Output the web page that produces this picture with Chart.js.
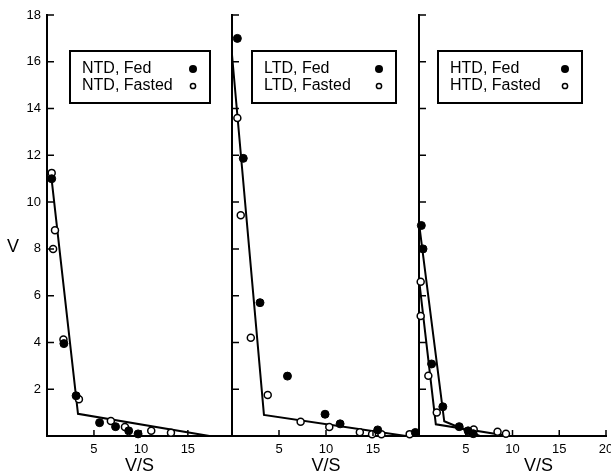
<!DOCTYPE html>
<html>
<head>
<meta charset="utf-8">
<script src="https://cdn.jsdelivr.net/npm/chart.js@4"></script>
<style>
  html, body { margin: 0; padding: 0; background: #fff; overflow: hidden; }
  #wrap { position: relative; width: 611px; height: 476px; overflow: hidden; }
  #wrap canvas { position: absolute; top: 0; }
</style>
</head>
<body>
<div id="wrap">
  <canvas id="ntd" width="240" height="476" style="left:0"></canvas>
  <canvas id="ltd" width="216" height="476" style="left:212px"></canvas>
  <canvas id="htd" width="220" height="476" style="left:400px"></canvas>
</div>
<script>
// tick labels
const yTicks = [2, 4, 6, 8, 10, 12, 14, 16, 18];
const xTicksShort = [5, 10, 15];
const xTicksLong = [5, 10, 15, 20];

// [V/S, V]
const ntdFed    = [[0.5, 11.0], [1.8, 3.95], [3.1, 1.72], [5.6, 0.57], [7.3, 0.4], [8.7, 0.22], [9.7, 0.09]];
const ntdFasted = [[0.5, 11.25], [0.65, 8.0], [0.85, 8.8], [1.75, 4.13], [3.4, 1.57], [6.8, 0.64], [8.3, 0.38], [11.1, 0.22], [13.2, 0.14]];
const ntdFit    = [[0.4, 11.3], [3.3, 0.95], [17.3, 0]];

const ltdFed    = [[0.57, 17.0], [1.2, 11.87], [2.98, 5.7], [5.9, 2.56], [9.9, 0.93], [11.5, 0.52], [15.5, 0.26], [19.5, 0.15]];
const ltdFasted = [[0.57, 13.6], [0.93, 9.44], [2.0, 4.2], [3.8, 1.75], [7.3, 0.61], [10.35, 0.38], [13.6, 0.16], [14.9, 0.07], [15.9, 0.07], [18.9, 0.08]];
const ltdFit    = [[0, 16.3], [3.4, 0.9], [18.5, 0]];

const htdFed       = [[0.25, 9.0], [0.43, 8.0], [1.35, 3.08], [2.55, 1.25], [4.3, 0.4], [5.25, 0.22], [5.8, 0.1]];
const htdFasted    = [[0.18, 6.6], [0.18, 5.13], [1.0, 2.58], [1.9, 1.0], [5.85, 0.28], [8.4, 0.18], [9.3, 0.1]];
const htdFedFit    = [[0, 9.1], [2.7, 0.63], [6.5, 0]];
const htdFastedFit = [[0, 6.7], [1.8, 0.5], [9.6, 0]];

const FONT = "'Liberation Sans', Arial, sans-serif";

const toXY = arr => arr.map(([x, y]) => ({ x, y }));

function pointSet(data, filled) {
  return {
    data: toXY(data),
    showLine: false,
    pointRadius: filled ? 4 : 3.5,
    pointBackgroundColor: filled ? '#000' : '#fff',
    pointBorderColor: '#000',
    pointBorderWidth: filled ? 1 : 1.5,
    clip: false,
    order: 0,
  };
}

function fitSet(data) {
  return {
    data: toXY(data),
    showLine: true,
    pointRadius: 0,
    borderColor: '#000',
    borderWidth: 2,
    tension: 0,
    clip: false,
    order: 1,
  };
}

// inward ticks, legend box and axis letters
const decor = {
  id: 'decor',
  afterDraw(chart, args, opts) {
    const { ctx, chartArea: { left, right, top, bottom }, scales: { x, y } } = chart;
    ctx.save();
    ctx.strokeStyle = '#000';
    ctx.lineWidth = 1.5;
    ctx.beginPath();
    opts.xMarks.forEach(v => {
      const px = x.getPixelForValue(v);
      ctx.moveTo(px, bottom);
      ctx.lineTo(px, bottom - 6);
    });
    yTicks.forEach(v => {
      const py = y.getPixelForValue(v);
      ctx.moveTo(left, py);
      ctx.lineTo(left + 7, py);
    });
    ctx.stroke();

    const lg = opts.legend;
    const bx = left + lg.dx, by = top + lg.dy;
    ctx.lineWidth = 2;
    ctx.fillStyle = '#fff';
    ctx.fillRect(bx, by, lg.w, 52);
    ctx.strokeRect(bx, by, lg.w, 52);
    ctx.fillStyle = '#000';
    ctx.font = '16px ' + FONT;
    ctx.textBaseline = 'middle';
    lg.labels.forEach((t, i) => {
      const ty = by + 18 + i * 17;
      ctx.fillText(t, bx + 12, ty);
      ctx.beginPath();
      ctx.arc(bx + lg.w - 17, ty, i ? 2.6 : 4, 0, Math.PI * 2);
      if (i) { ctx.lineWidth = 1.5; ctx.stroke(); } else ctx.fill();
    });

    ctx.font = '18px ' + FONT;
    ctx.textAlign = 'center';
    ctx.fillText('V/S', (left + right) / 2 + opts.titleDx, bottom + 30);
    if (opts.showV) ctx.fillText('V', 13, 247);
    ctx.restore();
  },
};

function makePanel(id, datasets, cfg) {
  new Chart(document.getElementById(id), {
    type: 'scatter',
    data: { datasets },
    plugins: [decor],
    options: {
      responsive: false,
      animation: false,
      events: [],
      layout: { padding: { top: 15, right: cfg.padRight, left: 0, bottom: 0 } },
      plugins: {
        legend: { display: false },
        tooltip: { enabled: false },
        decor: { xMarks: cfg.xLabels, legend: cfg.legend, titleDx: cfg.titleDx, showV: cfg.showV },
      },
      scales: {
        x: {
          type: 'linear',
          min: 0,
          max: cfg.xMax,
          grid: { display: false, drawTicks: false },
          border: { color: '#000', width: 2 },
          ticks: {
            stepSize: 5,
            padding: 6,
            color: '#000',
            maxRotation: 0,
            autoSkip: false,
            font: { family: FONT, size: 13 },
            callback: v => (cfg.xLabels.includes(v) ? v : ''),
          },
          afterFit: s => { s.height = 40; },
        },
        y: {
          type: 'linear',
          min: 0,
          max: 18,
          grid: { display: false, drawTicks: false },
          border: { color: '#000', width: 2 },
          ticks: {
            display: cfg.showV,
            stepSize: 2,
            padding: 6,
            color: '#000',
            font: { family: FONT, size: 13 },
            callback: v => (yTicks.includes(v) ? v : ''),
          },
          afterFit: s => { s.width = cfg.yWidth; },
        },
      },
    },
  });
}

makePanel('ntd',
  [pointSet(ntdFed, true), pointSet(ntdFasted, false), fitSet(ntdFit)],
  { xMax: 19.7, xLabels: xTicksShort, yWidth: 47, padRight: 8, titleDx: 0, showV: true,
    legend: { dx: 23, dy: 36, w: 140, labels: ['NTD, Fed', 'NTD, Fasted'] } });

makePanel('ltd',
  [pointSet(ltdFed, true), pointSet(ltdFasted, false), fitSet(ltdFit)],
  { xMax: 20, xLabels: xTicksShort, yWidth: 20, padRight: 8, titleDx: 0, showV: false,
    legend: { dx: 20, dy: 36, w: 144, labels: ['LTD, Fed', 'LTD, Fasted'] } });

makePanel('htd',
  [pointSet(htdFed, true), pointSet(htdFasted, false), fitSet(htdFedFit), fitSet(htdFastedFit)],
  { xMax: 20, xLabels: xTicksLong, yWidth: 19, padRight: 14, titleDx: 26, showV: false,
    legend: { dx: 19, dy: 36, w: 144, labels: ['HTD, Fed', 'HTD, Fasted'] } });
</script>
</body>
</html>
